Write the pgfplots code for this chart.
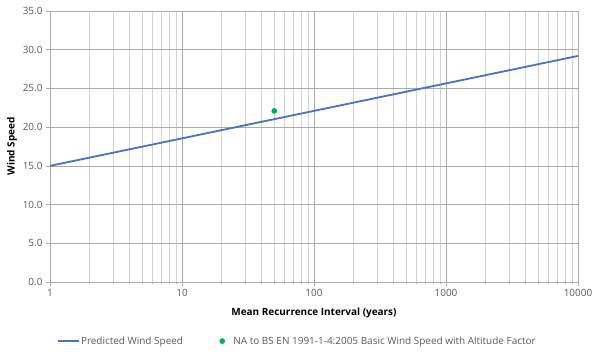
\documentclass[border=0pt]{standalone}
\usepackage{pgfplots}
\pgfplotsset{compat=1.18}
\usepackage{fontspec}
\setmainfont{Open Sans}
\definecolor{lineblue}{RGB}{68,114,196}
\definecolor{ptgreen}{RGB}{0,176,80}
\definecolor{majgrid}{RGB}{170,170,170}
\definecolor{mingrid}{RGB}{210,210,210}
\definecolor{ticktxt}{RGB}{89,89,89}
\begin{document}
\begin{tikzpicture}
\path[use as bounding box] (-50bp,-74bp) rectangle (548bp,282bp);
\begin{axis}[
  at={(0,0)}, anchor=south west,
  scale only axis, width=528bp, height=271bp,
  xmode=log, xmin=1, xmax=10000,
  ymin=0, ymax=35,
  ytick={0,5,...,35},
  xtick={1,10,100,1000,10000},
  xticklabels={1,10,100,1000,10000},
  yticklabel style={/pgf/number format/.cd,fixed,fixed zerofill,precision=1},
  /pgf/number format/assume math mode=true,
  ticklabel style={font=\fontsize{10}{12}\selectfont, text=ticktxt},
  xmajorgrids, xminorgrids, ymajorgrids,
  major grid style={majgrid, line width=0.6pt},
  minor grid style={mingrid, line width=0.6pt},
  axis line style={majgrid, line width=0.8pt},
  tick style={majgrid, line width=0.6pt},
  tick align=outside,
  major tick length=4bp, minor tick length=2bp,
  axis x line*=bottom, axis y line*=left,
  xlabel={\bfseries Mean Recurrence Interval (years)},
  ylabel={\bfseries Wind Speed},
  label style={font=\fontsize{10}{12}\selectfont\bfseries, text=black},
  xlabel style={at={(axis description cs:0.5,-0.114)}, anchor=center},
  ylabel style={at={(axis description cs:-0.072,0.5)}, anchor=center},
  legend columns=2,
  legend style={at={(axis description cs:0.0133,-0.218)}, anchor=west, draw=none, fill=none,
    inner sep=0pt, nodes={inner xsep=1bp},
    font=\fontsize{10}{12}\selectfont, text=ticktxt,
    /tikz/every even column/.append style={column sep=35bp}},
  legend cell align=left,
]
\addplot[lineblue, line width=1.8pt, no marks,
  legend image code/.code={\draw[lineblue, line width=1.8pt] (0bp,0bp) -- (21bp,0bp);}] coordinates {
  (1,15.0) (10,18.55) (100,22.1) (1000,25.65) (10000,29.2)
};
\addlegendentry{Predicted Wind Speed}
\addplot[only marks, mark=*, mark size=2.6bp, color=ptgreen,
  legend image code/.code={\draw[white, opacity=0] (0bp,0bp) -- (13bp,0bp); \fill[ptgreen] (3bp,0bp) circle (2.6bp);}] coordinates {
  (50,22.1)
};
\addlegendentry{NA to BS EN 1991-1-4:2005 Basic Wind Speed with Altitude Factor}
\end{axis}
\end{tikzpicture}
\end{document}
